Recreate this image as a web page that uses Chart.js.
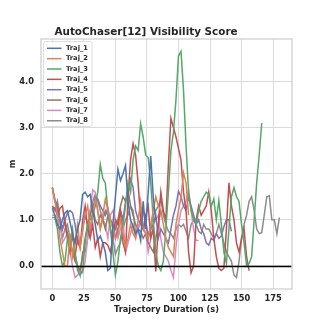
<!DOCTYPE html>
<html>
<head>
<meta charset="utf-8">
<script src="https://cdn.jsdelivr.net/npm/chart.js@4.4.1/dist/chart.umd.min.js"></script>
<style>
  html, body { margin: 0; padding: 0; background: #ffffff; }
  #chart { display: block; }
</style>
</head>
<body>
<canvas id="chart" width="325" height="325"></canvas>
<script>
// ============================================================
// AutoChaser[12] Visibility Score — 8 trajectories
// ============================================================

// sample spacing of every series (seconds)
const STEP = 2;

const labels = ["Traj_1", "Traj_2", "Traj_3", "Traj_4", "Traj_5", "Traj_6", "Traj_7", "Traj_8"];
const colors = ["#4c72b0", "#dd8452", "#55a868", "#c44e52", "#8172b3", "#937860", "#da8bc3", "#8c8c8c"];

const xTicks = [0, 25, 50, 75, 100, 125, 150, 175];
const yTicks = [0, 1, 2, 3, 4];

// values, one every STEP seconds from t = 0
const traj1 = [1.25, 1.1, 0.9, 0.8, 1.0, 1.15, 1.2, 0.95, 0.7, 0.5, 0.8, 1.0, 1.55, 1.6, 1.5, 1.55,
  1.2, 0.9, 0.55, 0.65, 0.5, 0.3, -0.1, -0.05, 0.9, 1.5, 2.1, 1.85, 2.0, 2.18, 1.4, 1.0, 0.85, 0.7,
  0.8, 0.55, 1.4, 0.8, 1.6, 2.38, 1.5, 1.0];
const traj2 = [1.7, 1.4, 1.1, 0.6, 0.3, 0.0, 0.0, 0.7, 0.2, 0.5, 0.9, 0.4, 0.8, 1.1, 1.3, 0.8,
  1.1, 1.45, 1.2, 0.8, 1.1, 1.45, 1.2, 1.0, 0.8, 0.6, 0.7, 1.0, 0.7, 0.4, 0.6, 0.9, 0.7, 0.6,
  1.0, 1.4, 0.8, 0.7, 0.6, 0.9, 1.2, 1.5, 1.3, 1.2, 0.9, 0.6, 0.4, 0.3, 0.2, 0.9, 1.2, 1.5,
  2.02, 1.8, 1.1];
const traj3 = [1.05, 1.05, 0.8, 0.3, 0.0, 0.1, 0.6, 0.4, 0.8, 0.3, -0.1, -0.2, -0.1, 0.5, 0.9, 1.0,
  1.1, 1.3, 1.6, 2.2, 1.9, 1.8, 1.2, 0.8, 0.3, -0.2, 0.1, 0.6, 0.9, 1.3, 1.8, 1.6, 2.3, 2.6, 2.5,
  3.08, 2.8, 2.4, 2.35, 1.8, 1.0, 0.3, 0.0, -0.1, 0.1, 0.8, 1.6, 2.5, 2.9, 3.6, 4.55, 4.65, 3.8,
  2.6, 1.6, 1.2, 1.0, 0.9, 1.2, 1.4, 1.5, 1.6, 1.55, 1.3, 1.45, 1.0, 1.42, 0.9, 0.3, 0.05, 0.8,
  1.5, 1.7, 1.5, 1.4, 0.9, 0.5, 0.0, 0.05, 0.2, 1.0, 1.8, 2.4, 3.1];
const traj4 = [1.28, 1.25, 1.1, 1.25, 1.3, 0.9, 0.6, 0.3, 0.7, 0.2, 0.6, 0.4, 1.0, 1.3, 0.8, 0.6,
  0.9, 0.4, 0.6, 0.2, 0.5, 0.5, 0.45, 0.3, 0.6, 1.0, 0.9, 1.2, 0.5, 0.3, 1.5, 2.3, 2.65, 2.4, 1.8,
  1.0, 0.8, 1.1, 1.3, 0.6, 0.8, -0.12, 0.9, 1.6, 1.2, 1.0, 2.2, 3.2, 3.0, 2.8, 2.55, 2.3, 1.6,
  1.2, 0.3, -0.15, 0.0, 1.0, 1.3, 1.1, 1.2, 1.3, 1.6, 1.2, 0.6, 0.2, -0.05, -0.1, -0.05, 0.8,
  1.8, 1.3, 1.0, 0.5, 0.3, 0.6, 0.8, 0.2, -0.1];
const traj5 = [1.7, 1.45, 1.2, 1.0, 0.8, 1.0, 1.15, 1.2, 1.15, 0.9, 0.5, 0.4, 0.8, 1.1, 0.9, 0.7,
  1.2, 1.5, 1.45, 1.3, 1.2, 1.1, 1.25, 1.0, 0.9, 0.6, 0.8, 1.2, 1.0, 1.4, 1.6, 1.88, 1.7, 1.2,
  1.0, 0.9, 0.8, 1.0, 0.6, 0.8, 0.9, 1.1, 0.6, 0.8, 0.7, 0.6, 0.5, 0.8, 1.1, 1.3, 1.62, 1.5, 1.3,
  1.2, 1.5, 1.3, 1.1, 0.9, 1.0, 0.8, 0.7, 0.5, 0.45, 0.6, 0.55, 0.7, 0.6, 0.65, 0.85, 1.0, 1.0,
  0.75];
const traj6 = [1.7, 1.4, 1.35, 1.0, 0.8, 1.0, 0.7, 0.5, 0.3, 0.1, 0.0, -0.1, 0.2, 0.6, 0.9, 1.1,
  1.3, 1.0, 0.9, 1.1, 1.0, 0.8, 1.1, 1.0, 0.9, 0.8, 1.0, 1.3, 1.5, 1.4, 1.65, 1.3, 1.1, 0.9, 0.8,
  0.75, 0.6, 0.7, 0.5, 0.4, 0.3, 0.6, 0.9, 1.2];
const traj7 = [1.1, 1.1, 1.05, 0.9, 0.5, 0.6, 0.7, 0.3, 0.0, -0.25, -0.2, -0.1, -0.15, 0.1, 0.6,
  1.2, 1.65, 1.6, 1.2, 0.8, 1.0, 0.9, 0.6, 1.1, 1.2, 1.0, 0.6, 0.8, 1.0, 0.3, 0.5, 0.7, 0.9, 0.6,
  0.8, 1.0, 0.9, 0.7, 0.3, 0.6, 0.9, 1.0, 1.1, 0.6, 0.3, 0.2, 0.1, -0.1, -0.25, 0.4, 0.9, 1.2,
  1.3, 1.4, 1.65, 1.2, 0.8, 0.55, 0.55];
const traj8 = [1.3, 1.2, 1.4, 1.0, 0.6, 0.8, 0.9, 0.6, 0.3, 0.25, 0.0, -0.2, 0.3, 0.3, 0.6, 1.2,
  1.4, 1.55, 1.4, 1.2, 1.0, 1.2, 1.1, 0.8, 0.6, 0.25, 0.4, 0.5, 0.8, 1.0, 1.1, 1.3, 1.2, 0.7, 0.8,
  1.0, 1.2, 0.9, 0.7, 0.8, 1.1, 1.2, 1.3, 1.45, 1.1, 0.9, 0.75, 0.7, 0.6, 0.8, 0.9, 0.85, 0.9,
  0.75, 0.6, 0.9, 1.0, 0.9, 0.75, 0.7, 0.9, 0.8, 0.8, 0.7, 0.6, 0.7, 0.9, 0.7, 0.5, 0.3, 0.2,
  0.1, -0.2, -0.25, 0.1, 0.6, 0.9, 1.1, 1.4, 1.5, 1.2, 0.8, 0.7, 0.72, 1.1, 1.5, 1.52, 1.0, 1.0,
  0.7, 1.05];

const series = [traj1, traj2, traj3, traj4, traj5, traj6, traj7, traj8];

const FONT = "'DejaVu Sans', sans-serif";
const TEXT = "#262626";
const GRID = "#dadada";
const FRAME = "#d0d0d0";

// frame + zero line + legend drawn on top of the plot
const decorPlugin = {
  id: "decor",
  afterDatasetsDraw(chart) {
    const { ctx, chartArea: a, scales } = chart;
    ctx.save();

    // black line at y = 0
    const y0 = Math.round(scales.y.getPixelForValue(0)) + 0.5;
    ctx.strokeStyle = "#000000";
    ctx.lineWidth = 1.3;
    ctx.beginPath();
    ctx.moveTo(a.left, y0);
    ctx.lineTo(a.right, y0);
    ctx.stroke();

    // axes frame
    ctx.strokeStyle = FRAME;
    ctx.lineWidth = 1.3;
    ctx.strokeRect(a.left, a.top, a.right - a.left, a.bottom - a.top);

    // legend box
    const bx = 43.5, by = 41.5, bw = 48.5, bh = 85;
    ctx.fillStyle = "rgba(255,255,255,0.8)";
    ctx.strokeStyle = "#d6d6d6";
    ctx.lineWidth = 0.8;
    ctx.beginPath();
    ctx.roundRect(bx, by, bw, bh, 2);
    ctx.fill();
    ctx.stroke();

    ctx.font = "bold 6.7px " + FONT;
    ctx.textBaseline = "middle";
    ctx.textAlign = "left";
    chart.data.datasets.forEach((ds, i) => {
      const ly = 48.3 + i * 10.35;
      ctx.strokeStyle = ds.borderColor;
      ctx.lineWidth = 1.5;
      ctx.beginPath();
      ctx.moveTo(47, ly);
      ctx.lineTo(61.5, ly);
      ctx.stroke();
      ctx.fillStyle = TEXT;
      ctx.fillText(ds.label, 66, ly);
    });

    ctx.restore();
  },
};

const ctx = document.getElementById("chart").getContext("2d");

new Chart(ctx, {
  type: "line",
  data: {
    datasets: series.map((vals, i) => ({
      label: labels[i],
      data: vals.map((v, k) => ({ x: k * STEP, y: v })),
      borderColor: colors[i],
      backgroundColor: colors[i],
      borderWidth: 1.5,
      pointRadius: 0,
      tension: 0,
      fill: false,
    })),
  },
  options: {
    responsive: false,
    animation: false,
    layout: { padding: { left: 0, right: 33, top: 0, bottom: 0 } },
    plugins: {
      legend: { display: false },
      tooltip: { enabled: false },
      title: {
        display: true,
        text: "AutoChaser[12] Visibility Score",
        color: TEXT,
        font: { family: FONT, size: 10.4, weight: "bold" },
        padding: { top: 26.5, bottom: 0 },
      },
    },
    scales: {
      x: {
        type: "linear",
        min: -9,
        max: 190,
        afterBuildTicks: axis => { axis.ticks = xTicks.map(v => ({ value: v })); },
        afterFit: axis => { axis.height = 36; },
        grid: { color: GRID, lineWidth: 1, drawTicks: false },
        border: { display: false },
        ticks: {
          autoSkip: false,
          maxRotation: 0,
          padding: 5,
          color: TEXT,
          font: { family: FONT, size: 8.3, weight: "bold" },
          callback: v => String(v),
        },
        title: {
          display: true,
          text: "Trajectory Duration (s)",
          color: TEXT,
          font: { family: FONT, size: 8.2, weight: "bold" },
          padding: { top: 0, bottom: 10 },
        },
      },
      y: {
        type: "linear",
        min: -0.5,
        max: 4.92,
        afterBuildTicks: axis => { axis.ticks = yTicks.map(v => ({ value: v })); },
        afterFit: axis => { axis.width = 41; },
        grid: { color: GRID, lineWidth: 1, drawTicks: false },
        border: { display: false },
        ticks: {
          autoSkip: false,
          padding: 7,
          color: TEXT,
          font: { family: FONT, size: 8.3, weight: "bold" },
          callback: v => Number(v).toFixed(1),
        },
        title: {
          display: true,
          text: "m",
          color: TEXT,
          font: { family: FONT, size: 8.2, weight: "bold" },
          padding: { top: 8, bottom: 0 },
        },
      },
    },
  },
  plugins: [decorPlugin],
});
</script>
</body>
</html>
